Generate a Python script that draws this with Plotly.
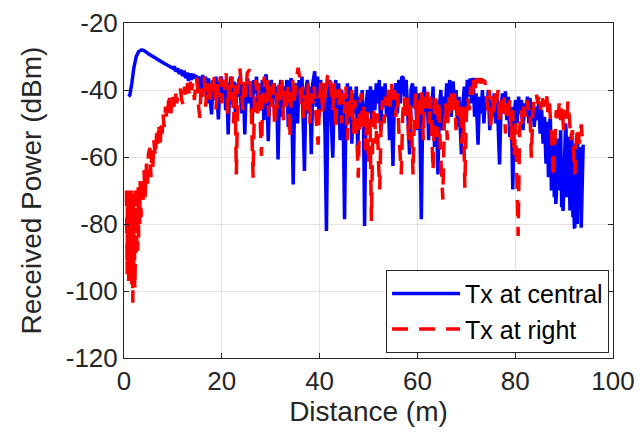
import plotly.graph_objects as go

# ---- Tx at central (blue, solid) ----
blue_x = [0.9, 1.2, 1.6, 2.0, 2.5, 3.0, 3.6, 4.2, 5.0, 6.0, 7.0, 8.0, 9.0, 10.0,
          10.3, 10.6, 11.0, 11.3, 11.6, 12.0, 12.3, 12.6, 12.9, 13.2, 13.5, 13.8, 14.1, 14.4, 14.7, 15.0,
          15.5, 15.8, 16.1, 16.4, 16.7, 17.0, 17.3, 17.6, 17.9, 18.2, 18.5, 18.8, 19.1, 19.3, 19.6, 19.9,
          20.2, 20.5, 20.8, 21.0, 21.3, 21.6, 21.9, 22.2, 22.5, 22.8, 23.1, 23.4, 23.7, 24.0, 24.4, 24.7,
          25.0, 25.3, 25.6, 25.9, 26.2, 26.5, 26.8, 27.1, 27.4, 27.7, 28.0, 28.3, 28.6, 28.9, 29.1, 29.5,
          29.8, 30.1, 30.4, 30.7, 31.0, 31.2, 31.5, 31.8, 32.1, 32.4, 32.7, 33.0, 33.3, 33.6, 33.9, 34.2,
          34.6, 34.9, 35.2, 35.5, 35.8, 36.1, 36.4, 36.9, 37.2, 37.5, 37.8, 38.0, 38.3, 38.6, 39.0, 39.3,
          39.6, 39.9, 40.2, 40.5, 40.8, 41.1, 41.4, 41.7, 42.0, 42.3, 42.7, 43.0, 43.3, 43.6, 43.9, 44.2,
          44.5, 44.8, 45.1, 45.4, 45.7, 46.0, 46.3, 46.6, 46.9, 47.2, 47.5, 47.8, 48.1, 48.4, 48.7, 49.0,
          49.2, 49.5, 49.8, 50.1, 50.4, 50.7, 51.0, 51.3, 51.6, 51.9, 52.2, 52.5, 52.8, 53.1, 53.4, 53.7,
          54.0, 54.3, 54.6, 55.0, 55.3, 55.6, 55.9, 56.2, 56.5, 56.8, 57.1, 57.4, 57.7, 58.0, 58.4, 58.7,
          59.0, 59.3, 59.6, 59.9, 60.2, 60.5, 60.8, 61.1, 61.4, 61.7, 62.0, 62.3, 62.6, 62.9, 63.2, 63.5,
          63.8, 64.2, 64.5, 64.8, 65.1, 65.4, 65.7, 66.0, 66.3, 66.6, 66.9, 67.3, 67.6, 67.9, 68.2, 68.5,
          68.8, 69.0, 69.3, 69.6, 69.9, 70.2, 70.5, 70.8, 71.1, 71.4, 71.7, 72.0, 72.4, 72.7, 73.0, 73.3,
          73.6, 73.9, 74.2, 74.5, 74.8, 75.1, 75.4, 75.7, 76.0, 76.3, 76.8, 77.1, 77.4, 77.7, 78.0, 78.3,
          78.6, 78.9, 79.2, 79.5, 79.8, 80.1, 80.4, 80.7, 81.0, 81.3, 81.6, 81.9, 82.2, 82.5, 82.8, 83.0,
          83.3, 83.6, 83.9, 84.2, 84.5, 84.8, 85.1, 85.4, 85.7,
          86.0, 86.2, 86.3, 86.5, 86.6, 86.8, 86.9, 87.1, 87.2, 87.4, 87.5, 87.7, 87.8, 88.0, 88.1, 88.3,
          88.4, 88.6, 88.7, 88.9, 89.0, 89.2, 89.3, 89.5, 89.6, 89.8, 90.0, 90.1, 90.3, 90.4, 90.6, 90.7,
          90.9, 91.0, 91.2, 91.3, 91.5, 91.6, 91.8, 91.9, 92.1, 92.2, 92.4, 92.5, 92.7, 92.8, 93.0, 93.1,
          93.3, 93.5, 93.7, 93.9]
blue_y = [-41.9, -41.5, -38.0, -33.5, -30.0, -28.5, -28.0, -28.3, -29.2, -30.2, -31.0, -31.9, -32.7, -33.5,
          -33.0, -34.5, -33.6, -35.2, -34.0, -35.8, -34.2, -36.5, -34.8, -37.3, -35.0, -37.0, -35.2, -36.5, -35.5, -38.0,
          -36.0, -42.0, -35.5, -40.0, -36.0, -44.0, -36.5, -41.0, -47.3, -37.0, -43.0, -36.0, -45.0, -48.8, -38.0, -36.0,
          -42.0, -37.0, -46.0, -38.0, -53.3, -39.0, -36.0, -44.0, -37.5, -48.0, -38.0, -42.0, -36.0, -47.0, -38.0, -53.3,
          -39.0, -36.5, -44.0, -38.0, -50.0, -37.0, -41.0, -36.0, -46.0, -38.0, -43.0, -37.0, -49.0, -36.0, -35.4, -55.3,
          -40.0, -37.0, -45.0, -38.0, -42.0, -39.0, -60.7, -40.0, -37.0, -48.0, -39.0, -44.0, -37.0, -51.0, -38.0, -36.5,
          -68.2, -41.0, -38.0, -50.0, -37.0, -43.0, -36.0, -64.2, -40.0, -37.0, -47.0, -39.0, -59.2, -38.0, -34.4, -45.0,
          -36.0, -48.0, -37.0, -44.0, -38.0, -52.0, -82.1, -42.0, -37.0, -46.0, -60.2, -41.0, -37.0, -50.0, -38.0, -55.0,
          -40.0, -46.0, -78.6, -44.0, -38.0, -50.0, -39.0, -56.0, -41.0, -47.0, -39.0, -58.0, -42.0, -49.0, -40.0, -52.0,
          -80.6, -45.0, -40.0, -47.0, -38.9, -50.0, -40.0, -46.0, -38.0, -44.0, -37.0, -52.0, -39.0, -45.0, -38.0, -48.0,
          -41.0, -55.0, -40.0, -62.7, -42.0, -38.0, -47.0, -37.0, -44.0, -36.0, -36.4, -42.0, -37.0, -46.0, -59.2, -40.0,
          -38.0, -45.0, -39.0, -52.0, -41.0, -48.0, -78.6, -44.0, -39.0, -47.0, -41.0, -55.0, -42.0, -49.0, -39.0, -57.0,
          -43.0, -65.2, -45.0, -40.0, -52.0, -42.0, -46.0, -38.0, -44.0, -37.0, -48.0, -37.4, -45.0, -40.0, -51.0, -42.0,
          -55.0, -59.2, -44.0, -39.0, -47.0, -37.0, -42.0, -36.5, -44.0, -36.4, -48.0, -41.0, -56.3, -42.0, -47.0, -40.0,
          -50.0, -42.0, -46.0, -40.0, -52.0, -43.0, -48.0, -41.0, -50.0, -42.0, -62.2, -45.0, -41.0, -47.0, -40.4, -49.0,
          -42.0, -54.0, -45.0, -69.7, -47.0, -43.0, -50.0, -42.0, -47.0, -43.0, -52.0, -44.0, -48.0, -42.0, -50.0, -42.4,
          -47.0, -44.0, -51.0, -45.0, -49.0, -44.0, -53.0, -46.0, -56.0,
          -48.0, -58.0, -62.0, -50.0, -50.0, -66.0, -58.0, -49.0, -49.0, -70.0, -66.0, -53.0, -53.0, -72.0, -60.0, -74.0,
          -72.0, -55.0, -55.0, -70.0, -64.0, -52.0, -52.0, -75.0, -70.0, -76.1, -60.0, -58.0, -50.0, -52.0, -72.0, -66.0,
          -54.0, -55.0, -76.0, -62.0, -53.0, -54.0, -78.0, -70.0, -81.0, -81.1, -56.0, -58.0, -80.0, -56.0, -76.0, -72.0,
          -57.0, -81.1, -60.0, -56.3]

# ---- Tx at right (red, dashed) ----
red_x = [0.5, 0.55, 0.6, 0.65, 0.7, 0.75, 0.8, 0.85, 0.9, 0.95, 1.0, 1.05, 1.1, 1.15, 1.2, 1.25, 1.3, 1.35, 1.4, 1.45,
         1.5, 1.55, 1.6, 1.65, 1.7, 1.75, 1.8, 1.85, 1.9, 1.95, 2.0, 2.05, 2.1, 2.15, 2.2, 2.25, 2.3, 2.35, 2.4, 2.45,
         2.5, 2.55, 2.6, 2.7, 2.8, 2.9, 3.0, 3.1, 3.2, 3.3, 3.5, 3.7, 3.9, 4.1, 4.3, 4.6, 4.8, 5.0, 5.3, 5.5, 5.7,
         5.9, 6.1, 6.4, 6.7, 6.9, 7.1, 7.4, 7.6, 7.8, 8.0, 8.2, 8.5, 8.8, 9.1, 9.4, 9.6, 9.9, 10.2, 10.5, 10.8,
         11.1, 11.5, 11.8, 12.1, 12.4, 12.7, 13.0, 13.3, 13.5, 13.8, 14.1, 14.4, 14.7, 14.9, 15.2, 15.5, 15.8, 16.1, 16.4, 16.7,
         17.0, 17.3, 17.6, 17.9, 18.2, 18.5, 18.8, 19.1, 19.4, 19.7, 20.0, 20.3, 20.6, 20.9, 21.2, 21.5, 21.8, 22.1, 22.4, 22.7,
         22.97, 23.3, 23.7, 24.0, 24.3, 24.6, 24.9, 25.2, 25.7, 26.0, 26.4, 26.7, 27.0, 27.3, 27.6, 28.1, 28.4, 28.7, 29.0, 29.3,
         29.6, 29.9, 30.2, 30.5, 30.8, 31.1, 31.4, 31.7, 32.0, 32.3, 32.6, 32.9, 33.2, 33.5, 33.9, 34.2, 34.5, 34.8, 35.1, 35.6,
         35.9, 36.2, 36.5, 36.8, 37.1, 37.4, 37.7, 38.0, 38.3, 38.6, 38.9, 39.2, 39.7, 40.0, 40.3, 40.6, 40.9, 41.2, 41.6, 42.1,
         42.4, 42.7, 43.0, 43.3, 43.6, 43.9, 44.2, 44.5, 44.8, 45.1, 45.4, 45.7, 46.0, 46.3, 46.6, 46.9, 47.2, 47.5, 47.9, 48.2,
         48.5, 48.8, 49.1, 49.4, 49.7, 50.0, 50.3, 50.6, 50.9, 51.2, 51.5, 51.8, 52.0, 52.3, 52.6, 52.9, 53.2, 53.5, 53.8, 54.1,
         54.4, 54.7, 55.0, 55.3, 55.6, 55.9, 56.2, 56.7, 57.0, 57.3, 57.6, 57.9, 58.2, 58.5, 58.8, 59.1, 59.4, 59.7, 60.0, 60.3,
         60.6, 60.9, 61.2, 61.5, 61.8, 62.1, 62.4, 62.7, 63.2, 63.5, 63.8, 64.1, 64.4, 64.7, 65.2, 65.5, 65.8, 66.1, 66.4, 66.7,
         67.0, 67.3, 67.6, 67.9, 68.2, 68.5, 68.8, 69.1, 69.4, 69.7, 70.0, 70.3, 70.6, 70.9, 71.2, 71.5, 71.8, 72.1, 72.4, 72.7,
         73.0, 73.3, 73.8, 74.1, 74.4, 74.7, 75.0, 75.3, 75.6, 75.9, 76.2, 76.5, 76.8, 77.1, 77.4, 77.7, 78.0, 78.3, 78.6, 78.9,
         79.2, 79.5, 79.8, 80.1, 80.6, 80.9, 81.2, 81.5, 81.8, 82.1, 82.4, 82.7, 83.0, 83.3, 83.6, 83.9, 84.3, 84.6, 84.9, 85.2,
         85.5, 85.8, 86.1, 86.4, 86.7, 87.0, 87.3, 87.5, 87.8, 88.1, 88.4, 88.7, 89.0, 89.3, 89.6, 89.9, 90.2, 90.5, 90.8, 91.1,
         91.4, 91.7, 92.0, 92.2, 92.5, 92.8, 93.1, 93.5, 93.7, 93.9]
red_y = [-70.0, -88.0, -72.0, -95.0, -70.0, -84.0, -74.0, -92.0, -70.0, -97.0, -76.0, -90.0, -71.0, -96.0, -73.0, -88.0, -70.0, -94.0, -72.0, -86.0,
         -70.0, -98.0, -75.0, -92.0, -72.0, -101.0, -103.5, -80.0, -72.0, -96.0, -74.0, -90.0, -71.0, -99.5, -99.5, -76.0, -92.0, -70.0, -88.0, -72.0,
         -90.0, -70.0, -86.0, -71.0, -88.0, -69.0, -84.0, -70.0, -80.0, -67.2, -78.0, -66.0, -74.0, -64.0, -72.0, -62.0, -68.0, -59.0, -57.3, -66.0, -58.0,
         -63.0, -55.0, -60.0, -52.3, -56.0, -50.0, -57.3, -49.0, -53.0, -47.3, -51.0, -45.0, -49.0, -43.5, -42.4, -47.0, -41.0, -45.0, -40.5, -44.0,
         -39.8, -39.4, -43.0, -44.4, -39.0, -42.0, -38.0, -41.0, -37.4, -40.0, -38.0, -43.0, -37.0, -36.4, -44.0, -48.3, -38.0, -42.0, -36.0, -45.0,
         -38.0, -41.0, -44.4, -37.0, -40.0, -35.5, -46.0, -38.0, -42.0, -36.0, -44.0, -37.0, -40.0, -35.0, -47.0, -37.0, -43.0, -36.0, -50.0, -38.0,
         -65.2, -40.0, -33.4, -39.0, -46.0, -36.0, -42.0, -35.0, -33.9, -44.0, -66.2, -41.0, -37.0, -47.0, -38.0, -59.7, -40.0, -36.0, -44.0, -37.0,
         -48.0, -39.0, -45.0, -38.0, -51.0, -41.0, -46.0, -38.0, -43.0, -37.0, -49.0, -40.0, -45.0, -39.0, -54.3, -41.0, -37.0, -44.0, -38.0, -33.4,
         -36.0, -45.0, -39.0, -49.0, -40.0, -46.0, -38.0, -50.0, -41.0, -44.0, -39.0, -47.0, -56.3, -42.0, -37.0, -47.0, -38.0, -43.0, -36.0, -34.9,
         -40.0, -46.0, -38.0, -52.0, -40.0, -45.0, -38.0, -50.0, -41.0, -47.0, -39.0, -55.0, -42.0, -48.0, -40.0, -53.0, -43.0, -49.0, -66.2, -45.0,
         -41.0, -52.0, -44.0, -58.0, -46.0, -62.0, -48.0, -79.1, -50.0, -45.0, -56.0, -47.0, -60.0, -69.7, -48.0, -43.0, -50.0, -42.0, -46.0, -40.0,
         -45.0, -38.0, -44.0, -40.0, -48.0, -41.0, -52.0, -65.2, -47.0, -42.0, -49.0, -41.0, -55.0, -44.0, -50.0, -65.2, -46.0, -41.0, -52.0, -43.0,
         -48.0, -40.0, -55.0, -42.0, -47.0, -39.0, -50.0, -42.0, -64.2, -46.0, -41.0, -54.0, -43.0, -58.0, -72.7, -50.0, -44.0, -55.0, -42.0, -48.0,
         -40.0, -46.0, -41.0, -52.0, -43.0, -48.0, -44.0, -56.0, -45.0, -69.2, -48.0, -42.0, -46.0, -39.0, -43.0, -37.0, -40.0, -36.4, -39.0, -36.5,
         -38.0, -37.0, -37.4, -42.0, -46.0, -40.0, -52.0, -42.0, -48.0, -41.0, -44.0, -40.0, -50.0, -43.0, -47.0, -41.0, -53.0, -44.0, -48.0, -43.0,
         -55.0, -46.0, -60.0, -50.0, -83.6, -52.0, -46.0, -50.0, -45.0, -48.0, -43.0, -46.0, -45.0, -60.2, -47.0, -42.0, -40.9, -44.0, -41.0, -46.0,
         -41.5, -45.0, -41.0, -40.9, -47.0, -44.0, -50.0, -55.0, -66.2, -52.0, -46.0, -50.0, -44.0, -49.0, -45.0, -52.0, -46.0, -50.0, -43.4, -49.0,
         -55.0, -52.0, -60.0, -65.2, -55.0, -51.0, -56.0, -50.3, -54.0, -52.0]

x_ticks = [0, 20, 40, 60, 80, 100]
y_ticks = [-120, -100, -80, -60, -40, -20]

FONT = "Liberation Sans, Arial, sans-serif"
AX = "#262626"

fig = go.Figure()
fig.add_trace(go.Scatter(x=blue_x, y=blue_y, mode="lines", name="Tx at central",
                         line=dict(color="#0000ff", width=3.5)))
fig.add_trace(go.Scatter(x=red_x, y=red_y, mode="lines", name="Tx at right",
                         line=dict(color="#ff0000", width=3.5, dash="16px,11px")))

fig.update_layout(
    width=643, height=436,
    margin=dict(l=116, r=38, t=15, b=86),
    paper_bgcolor="white", plot_bgcolor="white",
    font=dict(family=FONT, size=26, color=AX),
    showlegend=True,
    legend=dict(x=0.992, y=0.016, xanchor="right", yanchor="bottom",
                bgcolor="white", bordercolor=AX, borderwidth=1,
                itemwidth=68,
                font=dict(size=25, color="#000000"), tracegroupgap=0),
)
fig.update_xaxes(range=[0, 100], tickvals=x_ticks, ticktext=[str(v) for v in x_ticks],
                 showgrid=True, gridcolor="#e3e3e3", gridwidth=1,
                 showline=True, linecolor=AX, linewidth=1, mirror="ticks",
                 ticks="inside", ticklen=5, tickcolor=AX, zeroline=False,
                 tickfont=dict(size=26, color=AX), automargin=False,
                 title=dict(text="Distance (m)", font=dict(size=28, color=AX), standoff=2))
fig.update_yaxes(range=[-120, -20], tickvals=y_ticks, ticktext=[str(v) for v in y_ticks],
                 showgrid=True, gridcolor="#e3e3e3", gridwidth=1,
                 showline=True, linecolor=AX, linewidth=1, mirror="ticks",
                 ticks="inside", ticklen=5, tickcolor=AX, zeroline=False,
                 tickfont=dict(size=26, color=AX), automargin=False,
                 title=dict(text="Received Power (dBm)", font=dict(size=28, color=AX)))

fig.write_html("out.html")
